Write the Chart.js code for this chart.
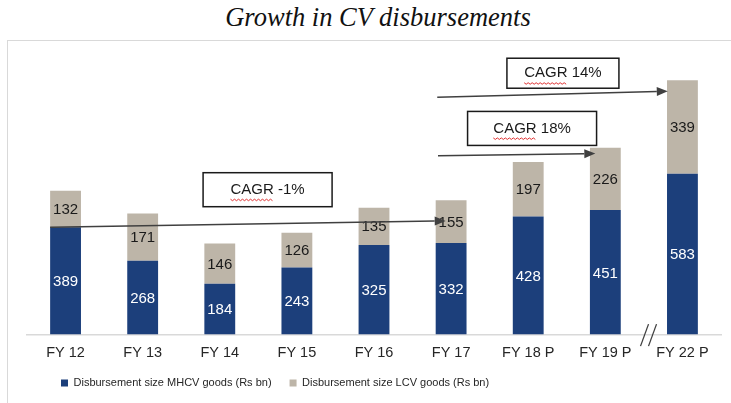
<!DOCTYPE html>
<html>
<head>
<meta charset="utf-8">
<script src="https://cdn.jsdelivr.net/npm/chart.js@4.4.1/dist/chart.umd.min.js"></script>
<style>
  html, body { margin: 0; padding: 0; background: #fff; }
  body { width: 731px; height: 403px; position: relative; overflow: hidden; }
  #title {
    position: absolute; left: 0; top: 2px; width: 756px; text-align: center;
    font-family: "Liberation Serif", "Times New Roman", serif; font-style: italic;
    font-size: 26.5px; color: #111;
  }
  #frame {
    position: absolute; left: 7px; top: 40px; width: 740px; height: 380px;
    border-left: 1px solid #d9d9d9; border-top: 1px solid #d9d9d9;
  }
  #chart { position: absolute; left: 0; top: 0; }
</style>
</head>
<body>
<div id="title">Growth in CV disbursements</div>
<div id="frame"><canvas id="chart" width="724" height="363"></canvas></div>
<script>
const categories = ["FY 12", "FY 13", "FY 14", "FY 15", "FY 16", "FY 17", "FY 18 P", "FY 19 P", "FY 22 P"]
const mhcvGoods = [389, 268, 184, 243, 325, 332, 428, 451, 583]
const lcvGoods = [132, 171, 146, 126, 135, 155, 197, 226, 339]

// CAGR arrows: [fromIndex, fromValue, toIndex, toValue]
const cagrArrows = [
  [-0.2, 389, 4.93, 412],
  [4.83, 648, 6.87, 656],
  [4.82, 860, 7.81, 882]
]
// CAGR boxes: center index, center value, width, height
const cagrLabels = ["CAGR -1%", "CAGR 18%", "CAGR 14%"]
const cagrBoxes = [
  [2.62, 525, 129, 34],
  [6.05, 747, 129, 34],
  [6.45, 947, 112, 30]
]
const breakAt = 7.56

const blue = "#1c3f7b"
const beige = "#bdb5a8"
const sans = "'Liberation Sans', Arial, sans-serif"

const barLabels = {
  id: "barLabels",
  afterDatasetsDraw(chart) {
    const ctx = chart.ctx
    ctx.save()
    ctx.font = "15px " + sans
    ctx.textAlign = "center"
    ctx.textBaseline = "middle"
    chart.data.datasets.forEach((ds, di) => {
      const meta = chart.getDatasetMeta(di)
      meta.data.forEach((bar, i) => {
        ctx.fillStyle = di === 0 ? "#ffffff" : "#1a1a1a"
        ctx.fillText(ds.data[i], bar.x, (bar.y + bar.base) / 2 + 1)
      })
    })
    ctx.restore()
  }
}

// put the legend where the original has it (left part of the bottom row)
const legendSpot = {
  id: "legendSpot",
  afterLayout(chart) {
    const lg = chart.legend
    const w = lg.right - lg.left, h = lg.bottom - lg.top
    lg.left = 35
    lg.right = lg.left + w
    lg.top = 318.5
    lg.bottom = lg.top + h
  }
}

const cagrNotes = {
  id: "cagrNotes",
  afterDraw(chart) {
    const ctx = chart.ctx
    const x = chart.scales.x
    const y = chart.scales.y
    const xAt = v => x.getPixelForValue(0) + v * (x.getPixelForValue(1) - x.getPixelForValue(0))
    ctx.save()

    // arrows
    ctx.strokeStyle = "#404040"
    ctx.fillStyle = "#404040"
    ctx.lineWidth = 1.5
    cagrArrows.forEach(([i0, v0, i1, v1]) => {
      const x0 = xAt(i0), y0 = y.getPixelForValue(v0)
      const x1 = xAt(i1), y1 = y.getPixelForValue(v1)
      const a = Math.atan2(y1 - y0, x1 - x0)
      const len = 11
      ctx.beginPath()
      ctx.moveTo(x0, y0)
      ctx.lineTo(x1 - len * Math.cos(a), y1 - len * Math.sin(a))
      ctx.stroke()
      ctx.beginPath()
      ctx.moveTo(x1, y1)
      ctx.lineTo(x1 - len * Math.cos(a) + 4.5 * Math.sin(a), y1 - len * Math.sin(a) - 4.5 * Math.cos(a))
      ctx.lineTo(x1 - len * Math.cos(a) - 4.5 * Math.sin(a), y1 - len * Math.sin(a) + 4.5 * Math.cos(a))
      ctx.closePath()
      ctx.fill()
    })

    // boxes
    ctx.font = "15px " + sans
    ctx.textBaseline = "middle"
    cagrBoxes.forEach(([ci, cv, w, h], k) => {
      const cx = xAt(ci), cy = y.getPixelForValue(cv)
      ctx.fillStyle = "#ffffff"
      ctx.fillRect(cx - w / 2, cy - h / 2, w, h)
      ctx.strokeStyle = "#1a1a1a"
      ctx.lineWidth = 1.5
      ctx.strokeRect(cx - w / 2, cy - h / 2, w, h)
      const text = cagrLabels[k]
      const tw = ctx.measureText(text).width
      const sx = cx - tw / 2
      ctx.fillStyle = "#1a1a1a"
      ctx.textAlign = "left"
      ctx.fillText(text, sx, cy)
      // spellcheck squiggle under "CAGR"
      const sw = ctx.measureText("CAGR").width
      ctx.strokeStyle = "#e03030"
      ctx.lineWidth = 1
      ctx.beginPath()
      for (let p = 0; p <= sw; p += 2) {
        const yy = cy + 9.5 + ((p / 2) % 2 === 0 ? 0 : 1.5)
        if (p === 0) ctx.moveTo(sx + p, yy)
        else ctx.lineTo(sx + p, yy)
      }
      ctx.stroke()
    })

    // axis break mark
    const bx = xAt(breakAt)
    const by = chart.chartArea.bottom + 0.5
    ctx.strokeStyle = "#404040"
    ctx.lineWidth = 1.3
    ;[-4, 4].forEach(dx => {
      ctx.beginPath()
      ctx.moveTo(bx + dx - 4, by + 11)
      ctx.lineTo(bx + dx + 4, by - 11)
      ctx.stroke()
    })
    ctx.restore()
  }
}

new Chart(document.getElementById("chart"), {
  type: "bar",
  data: {
    labels: categories,
    datasets: [
      {
        label: "Disbursement size MHCV goods (Rs bn)",
        data: mhcvGoods,
        backgroundColor: blue,
        categoryPercentage: 1,
        barPercentage: 0.4
      },
      {
        label: "Disbursement size LCV goods (Rs bn)",
        data: lcvGoods,
        backgroundColor: beige,
        categoryPercentage: 1,
        barPercentage: 0.4
      }
    ]
  },
  options: {
    responsive: false,
    animation: false,
    layout: { padding: { left: 19, right: 11, top: 17.6, bottom: 1 } },
    plugins: {
      legend: {
        position: "bottom",
        align: "start",
        labels: {
          boxWidth: 7,
          boxHeight: 7,
          padding: 18,
          color: "#262626",
          font: { family: sans, size: 11 }
        }
      },
      tooltip: { enabled: false }
    },
    scales: {
      x: {
        stacked: true,
        grid: { display: false },
        border: { display: true, color: "#d9d9d9", width: 1.5 },
        ticks: {
          color: "#262626",
          padding: 2,
          font: { family: sans, size: 14.5 }
        }
      },
      y: {
        stacked: true,
        display: false,
        min: 0,
        max: 1000
      }
    }
  },
  plugins: [barLabels, legendSpot, cagrNotes]
})
</script>
</body>
</html>
